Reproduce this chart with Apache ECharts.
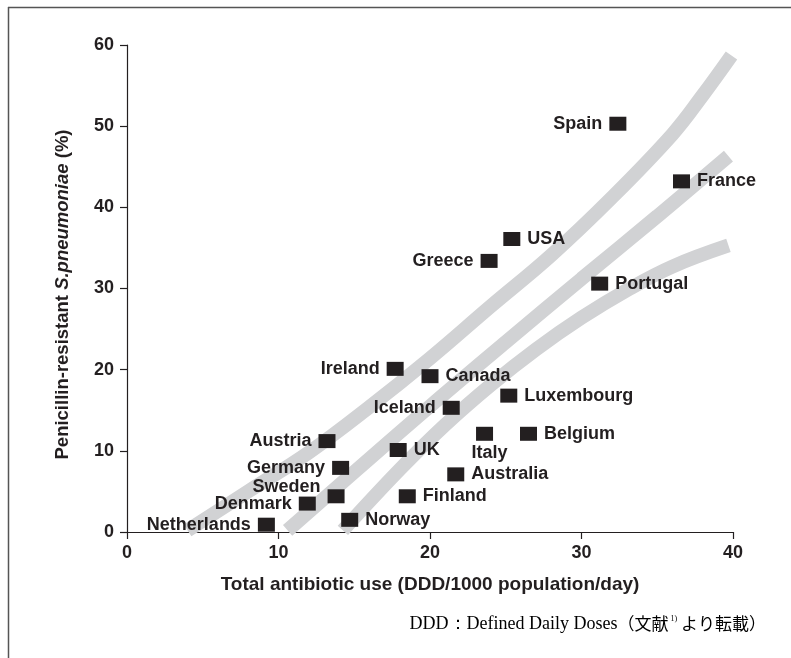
<!DOCTYPE html>
<html>
<head>
<meta charset="utf-8">
<script src="https://cdn.jsdelivr.net/npm/echarts@6/dist/echarts.min.js"></script>
<style>
  html, body { margin: 0; padding: 0; background: #fff; }
  #chart { width: 791px; height: 658px; }
</style>
</head>
<body>
<div id="chart"></div>
<script>
// countries: antibiotic use (DDD/1000/day) vs penicillin-resistant S.pneumoniae (%)
var countries = ['Netherlands', 'Denmark', 'Sweden', 'Germany', 'Austria', 'Norway', 'Ireland',
  'UK', 'Finland', 'Canada', 'Iceland', 'Australia', 'Italy', 'Luxembourg', 'Belgium',
  'Greece', 'USA', 'Portugal', 'Spain', 'France'];
var use = [9.2, 11.9, 13.8, 14.1, 13.2, 14.7, 17.7,
  17.9, 18.5, 20.0, 21.4, 21.7, 23.6, 25.2, 26.5,
  23.9, 25.4, 31.2, 32.4, 36.6];
var resistant = [0.9, 3.5, 4.4, 7.9, 11.2, 1.5, 20.1,
  10.1, 4.4, 19.2, 15.3, 7.1, 12.1, 16.8, 12.1,
  33.4, 36.1, 30.6, 50.3, 43.2];

// grey bands
var bandUpper = [[4.0, 0.2], [8, 5.0], [12, 9.8], [16, 15.4], [20, 21.4], [24, 27.8],
  [28, 34.1], [32, 41.2], [36, 49.0], [38, 53.8], [39.9, 58.7]];
var bandMiddle = [[10.6, 0.2], [15, 7.4], [20, 15.5], [25, 23.4], [30, 31.2],
  [35, 38.9], [39.7, 46.3]];
var bandLower = [[14.25, 0.2], [18, 7.7], [21, 13.2], [24, 18.1], [27, 22.5],
  [30, 26.4], [33, 29.8], [36, 32.7], [39.7, 35.3]];

var xTicks = [0, 10, 20, 30, 40];
var yTicks = [0, 10, 20, 30, 40, 50, 60];

var leftLabels = ['Netherlands', 'Denmark', 'Sweden', 'Germany', 'Austria', 'Ireland',
  'Iceland', 'Greece', 'Spain'];

var ink = '#231f20';
var bandColor = '#d1d2d4';
var font = 'Liberation Sans, Arial, sans-serif';

var points = [];
for (var i = 0; i < countries.length; i++) {
  var name = countries[i];
  var lab = { position: 'right' };
  if (leftLabels.indexOf(name) >= 0) lab.position = 'left';
  if (name === 'Sweden') lab.offset = [0, -9];
  if (name === 'Italy') { lab.position = 'bottom'; lab.distance = 3; lab.offset = [5, 0]; }
  points.push({ name: name, value: [use[i], resistant[i]], label: lab });
}

function band(data) {
  return {
    type: 'line',
    data: data,
    smooth: 0.4,
    symbol: 'none',
    silent: true,
    clip: false,
    lineStyle: { color: bandColor, width: 14, cap: 'butt', opacity: 1 },
    z: 1
  };
}

var chart = echarts.init(document.getElementById('chart'));
var option = {
  animation: false,
  grid: { left: 127, right: 58, top: 45, bottom: 126, containLabel: false },
  xAxis: {
    type: 'value',
    min: xTicks[0],
    max: xTicks[xTicks.length - 1],
    interval: 10,
    name: 'Total antibiotic use (DDD/1000 population/day)',
    nameLocation: 'middle',
    nameGap: 43,
    nameTextStyle: { fontFamily: font, fontWeight: 'bold', fontSize: 19, color: ink },
    axisLine: { lineStyle: { color: ink, width: 1.2 } },
    axisTick: { show: true, length: 7, lineStyle: { color: ink, width: 1.2 } },
    axisLabel: { margin: 12, fontFamily: font, fontWeight: 'bold', fontSize: 18, color: ink },
    splitLine: { show: false }
  },
  yAxis: {
    type: 'value',
    min: yTicks[0],
    max: yTicks[yTicks.length - 1],
    interval: 10,
    name: '{a|Penicillin-resistant }{b|S.pneumoniae}{a| (%)}',
    nameLocation: 'middle',
    nameGap: 55,
    nameRotate: 90,
    nameTextStyle: {
      color: ink,
      padding: [0, 12, 0, 0],
      rich: {
        a: { fontFamily: font, fontWeight: 'bold', fontSize: 18.5, color: ink },
        b: { fontFamily: font, fontWeight: 'bold', fontStyle: 'italic', fontSize: 18.5, color: ink }
      }
    },
    axisLine: { show: true, lineStyle: { color: ink, width: 1.2 } },
    axisTick: { show: true, length: 7, lineStyle: { color: ink, width: 1.2 } },
    axisLabel: { margin: 13, fontFamily: font, fontWeight: 'bold', fontSize: 18, color: ink },
    splitLine: { show: false }
  },
  series: [
    band(bandUpper),
    band(bandMiddle),
    band(bandLower),
    {
      type: 'scatter',
      symbol: 'rect',
      symbolSize: [17, 14],
      itemStyle: { color: ink, opacity: 1 },
      emphasis: { disabled: true },
      z: 5,
      label: {
        show: true,
        formatter: '{b}',
        distance: 7,
        fontFamily: font,
        fontWeight: 'bold',
        fontSize: 18,
        color: ink,
        opacity: 1
      },
      data: points
    }
  ],
  graphic: [
    { type: 'line', shape: { x1: 8, y1: 7.5, x2: 791, y2: 7.5 }, style: { stroke: '#555', lineWidth: 1.5 } },
    { type: 'line', shape: { x1: 8.5, y1: 7, x2: 8.5, y2: 658 }, style: { stroke: '#555', lineWidth: 1.5 } },
    {
      type: 'text',
      right: 25,
      top: 615,
      style: {
        text: '{t|DDD：Defined Daily Doses}{j|（文献}{s|1)}{j| より転載）}',
        rich: {
          t: { fontFamily: 'Liberation Serif, serif', fontSize: 18, color: '#333', lineHeight: 22, verticalAlign: 'middle' },
          j: { fontFamily: 'Noto Sans CJK JP, serif', fontSize: 17, color: '#333', lineHeight: 22, verticalAlign: 'middle' },
          s: { fontFamily: 'Liberation Serif, serif', fontSize: 8, color: '#333', lineHeight: 22, padding: [0, 0, 10, 2] }
        }
      }
    }
  ]
};
chart.setOption(option);
</script>
</body>
</html>
